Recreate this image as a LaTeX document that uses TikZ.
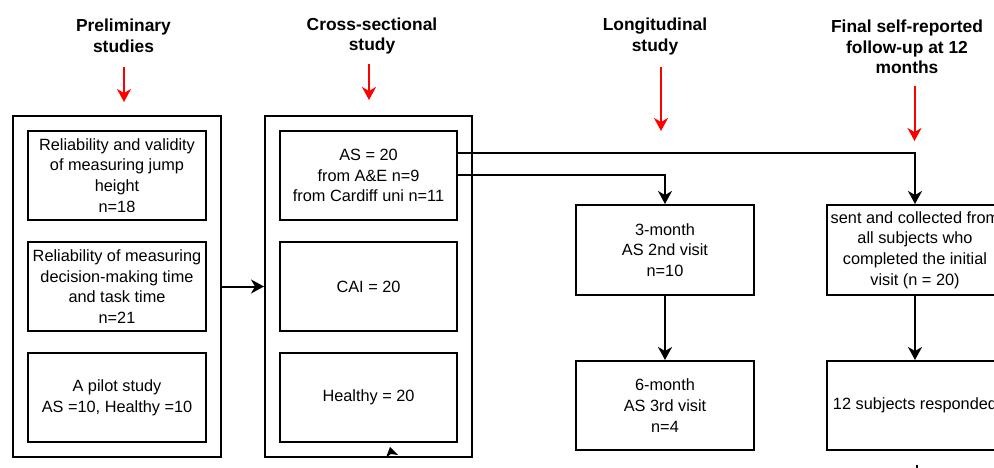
\documentclass[tikz,border=0pt]{standalone}
\usepackage{fontspec}
\setmainfont{Liberation Sans}
\usetikzlibrary{arrows.meta}
\begin{document}
\begin{tikzpicture}[x=1pt,y=-1pt,
  box/.style={draw=black, line width=2pt, inner sep=0pt, align=center,
    font=\fontsize{16.3}{20.7}\selectfont},
  outerbox/.style={draw=black, line width=2pt, inner sep=0pt, minimum width=207pt, minimum height=341pt},
  innerbox/.style={box, minimum width=177pt, minimum height=89pt},
  stepbox/.style={box, minimum width=178pt, minimum height=89pt},
  title/.style={align=center, inner sep=0pt, font=\fontsize{17.4}{20.5}\selectfont\bfseries},
  arr/.style={draw=black, line width=2pt, -{Stealth[length=13pt,width=14pt,inset=4pt]}},
  redarr/.style={draw=red, line width=2pt, -{Stealth[length=13pt,width=14pt,inset=4pt]}}]
\useasboundingbox (0,0) rectangle (994,468);
\clip (0,0) rectangle (994,468);
\fill[white] (0,0) rectangle (994,468);

% titles
\node[title] (t1) at (123.5,36) {Preliminary\\studies};
\node[title] (t2) at (372,36) {Cross-sectional\\study};
\node[title] (t3) at (655,36.5) {Longitudinal\\study};
\node[title] (t4) at (907,47) {Final self-reported\\follow-up at 12\\months};

% red arrows
\coordinate (r1a) at (124,67);  \coordinate (r1b) at (124,102);
\coordinate (r2a) at (369,64);  \coordinate (r2b) at (369,100);
\coordinate (r3a) at (661,67);  \coordinate (r3b) at (661,131);
\coordinate (r4a) at (914.5,86); \coordinate (r4b) at (914.5,141);
\draw[redarr] (r1a) -- (r1b);
\draw[redarr] (r2a) -- (r2b);
\draw[redarr] (r3a) -- (r3b);
\draw[redarr] (r4a) -- (r4b);

% preliminary
\node[outerbox, minimum width=208pt] (pre) at (117,286.5) {};
\node[innerbox, minimum width=178pt] (p1) at (117,175.5) {Reliability and validity\\of measuring jump\\height\\n=18};
\node[innerbox, minimum width=178pt] (p2) at (117,286.5) {Reliability of measuring\\decision-making time\\and task time\\n=21};
\node[innerbox, minimum width=178pt] (p3) at (117,397.5) {A pilot study\\AS =10, Healthy =10};

% cross-sectional
\node[outerbox] (cs) at (368.5,286.5) {};
\node[innerbox] (as) at (368.5,175.5) {AS = 20\\from A\&E n=9\\from Cardiff uni n=11};
\node[innerbox] (cai) at (368.5,286.5) {CAI = 20};
\node[innerbox] (hl) at (368.5,397.5) {Healthy = 20};

% longitudinal
\node[stepbox, minimum height=90pt] (m3) at (665,250) {3-month\\AS 2nd visit\\n=10};
\node[stepbox] (m6) at (665,405.5) {6-month\\AS 3rd visit\\n=4};

% follow-up
\node[stepbox, minimum width=176pt, minimum height=90pt] (fu) at (915,250) {sent and collected from\\all subjects who\\completed the initial\\visit (n = 20)};
\node[stepbox, minimum width=176pt] (resp) at (915,405.5) {12 subjects responded};

% connectors
\draw[arr] (pre.east) -- (cs.west);
\draw[arr] ([yshift=22.5pt]as.east) -| (fu.north);
\draw[arr] (as.east) -| (m3.north);
\draw[arr] (m3) -- (m6);
\draw[arr] (fu) -- (resp);

% clipped fragments at bottom
\fill[black] (386,457.5) -- (390,447) -- (398,455) -- (391,454) -- cycle;
\coordinate (tk1) at (917,464.5); \coordinate (tk2) at (917,470);
\draw[line width=1.5pt] (tk1) -- (tk2);
\end{tikzpicture}
\end{document}
